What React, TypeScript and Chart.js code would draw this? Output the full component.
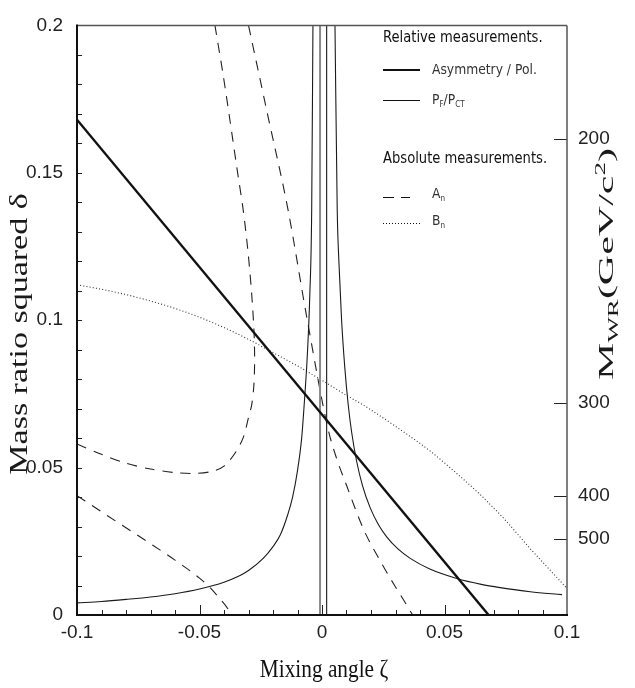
import React, { useEffect, useRef } from "react";
import { Chart, registerables } from "chart.js";
Chart.register(...registerables);

// ---- axes ----
const X_MIN = -0.1;
const X_MAX = 0.1;
const Y_MIN = 0;
const Y_MAX = 0.2;
const xMajorLabels = [-0.1, -0.05, 0, 0.05, 0.1];
const yMajorLabels = [0, 0.05, 0.1, 0.15, 0.2];
const massTickLabels = [200, 300, 400, 500];
const MW_L = 80.4; // GeV/c^2, delta = (M_WL / M_WR)^2

// ---- Asymmetry / Pol. (thick solid) ----
const asymZeta = [-0.1, 0.068];
const asymDelta = [0.168, 0];

// ---- P_F / P_CT (thin solid) ----
const pfLeftZeta = [-0.1, -0.09, -0.08, -0.07, -0.06, -0.05, -0.04, -0.035, -0.03, -0.024, -0.02, -0.017, -0.014, -0.012, -0.01, -0.0083, -0.0073, -0.006, -0.005, -0.0042, -0.0037];
const pfLeftDelta = [0.0041, 0.0046, 0.0053, 0.0061, 0.0072, 0.0088, 0.0111, 0.0128, 0.0151, 0.0192, 0.0232, 0.0272, 0.034, 0.04, 0.049, 0.06, 0.071, 0.088, 0.108, 0.138, 0.2];
const pfRightZeta = [0.0053, 0.0062, 0.007, 0.008, 0.0093, 0.0107, 0.0121, 0.0142, 0.0165, 0.0196, 0.023, 0.0264, 0.031, 0.036, 0.044, 0.055, 0.065, 0.0727, 0.085, 0.098];
const pfRightDelta = [0.2, 0.138, 0.118, 0.1, 0.084, 0.0713, 0.062, 0.0519, 0.044, 0.0365, 0.0307, 0.0265, 0.0224, 0.0192, 0.0156, 0.0124, 0.0104, 0.0093, 0.0079, 0.0069];
const pfBandGreyZeta = [-0.0008, -0.0008];
const pfBandGreyDelta = [0, 0.2];
const pfBandBlackZeta = [0.0019, 0.0019];
const pfBandBlackDelta = [0, 0.2];

// ---- A_n (dashed) ----
const anRightZeta = [-0.03, -0.022, -0.0139, -0.006, 0.0025, 0.006, 0.01, 0.017, 0.024, 0.03, 0.033, 0.037];
const anRightDelta = [0.2, 0.169, 0.1376, 0.1, 0.063, 0.053, 0.044, 0.029, 0.018, 0.0095, 0.0055, 0];
const anLeftZeta = [-0.1, -0.09, -0.08, -0.07, -0.06, -0.052, -0.045, -0.04, -0.035, -0.032, -0.03, -0.0287, -0.0278, -0.0275, -0.0278, -0.0288, -0.0303, -0.0322, -0.0348, -0.0376, -0.0405, -0.0437];
const anLeftDelta = [0.058, 0.0545, 0.0515, 0.0495, 0.0483, 0.048, 0.0487, 0.0505, 0.0555, 0.0605, 0.067, 0.0713, 0.078, 0.087, 0.097, 0.11, 0.124, 0.1376, 0.152, 0.168, 0.184, 0.2];
const anLowZeta = [-0.1, -0.09, -0.08, -0.07, -0.06, -0.05, -0.045, -0.042, -0.0385, -0.037];
const anLowDelta = [0.0405, 0.035, 0.0296, 0.0242, 0.0186, 0.0125, 0.0087, 0.0058, 0.0022, 0];

// ---- B_n (dotted) ----
const bnZeta = [-0.1, -0.09, -0.08, -0.07, -0.06, -0.05, -0.04, -0.03, -0.02, -0.01, 0, 0.01, 0.0167, 0.03, 0.044, 0.055, 0.065, 0.075, 0.085, 0.09, 0.095, 0.1];
const bnDelta = [0.112, 0.1105, 0.1087, 0.1065, 0.104, 0.101, 0.0975, 0.0935, 0.089, 0.0845, 0.0796, 0.0745, 0.0713, 0.064, 0.0557, 0.048, 0.0405, 0.032, 0.0225, 0.018, 0.0135, 0.009];

const pts = (xs: number[], ys: number[]) => xs.map((x, i) => ({ x, y: ys[i] }));
const near = (v: number, arr: number[]) => arr.some((m) => Math.abs(m - v) < 1e-9);
const fmt = (v: number) => {
  const r = Math.round(v * 1000) / 1000;
  return r === 0 ? "0" : String(r);
};

type Seg = { t: string; size: number; dy?: number };

function drawRich(
  ctx: CanvasRenderingContext2D,
  segs: Seg[],
  family: string,
  x: number,
  y: number,
  angle: number,
  sAlong: number,
  sAcross: number,
  align: "center" | "left",
  color: string
) {
  ctx.save();
  ctx.translate(x, y);
  ctx.rotate(angle);
  ctx.scale(sAlong, sAcross);
  ctx.textBaseline = "alphabetic";
  ctx.textAlign = "left";
  ctx.fillStyle = color;
  let total = 0;
  const widths = segs.map((s) => {
    ctx.font = `${s.size}px ${family}`;
    const w = ctx.measureText(s.t).width;
    total += w;
    return w;
  });
  let cx = align === "center" ? -total / 2 : 0;
  segs.forEach((s, i) => {
    ctx.font = `${s.size}px ${family}`;
    ctx.fillText(s.t, cx, s.dy || 0);
    cx += widths[i];
  });
  ctx.restore();
}

const SERIF = "'Liberation Serif', 'Times New Roman', serif";
const LEGEND = "'DejaVu Sans', sans-serif";
const TICK_FONT = { family: "'Liberation Sans', Arial, sans-serif", size: 19 };

const decor = {
  id: "decor",
  afterDraw(chart: any) {
    const { ctx, chartArea: a, scales } = chart;
    const xs = scales.x;
    const ys = scales.y;
    const y2 = scales.y2;
    const seg = (x1: number, y1: number, x2: number, y2_: number) => {
      ctx.beginPath();
      ctx.moveTo(x1, y1);
      ctx.lineTo(x2, y2_);
      ctx.stroke();
    };
    ctx.save();
    ctx.strokeStyle = "#222";
    ctx.lineWidth = 1;
    xs.ticks.forEach((t: any) => {
      const px = Math.round(xs.getPixelForValue(t.value)) + 0.5;
      if (px <= a.left + 2 || px >= a.right - 2) return;
      const len = near(t.value, xMajorLabels) ? 10 : 5;
      seg(px, a.bottom, px, a.bottom - len);
    });
    ys.ticks.forEach((t: any) => {
      const py = Math.round(ys.getPixelForValue(t.value)) + 0.5;
      if (py <= a.top + 2 || py >= a.bottom - 2) return;
      seg(a.left, py, a.left + 5, py);
    });
    y2.ticks.forEach((t: any) => {
      const py = Math.round(y2.getPixelForValue(t.value)) + 0.5;
      seg(a.right, py, a.right - 13, py);
    });
    // frame
    ctx.strokeStyle = "#555";
    ctx.lineWidth = 1.5;
    seg(a.left, a.top, a.right, a.top);
    seg(a.right, a.top, a.right, a.bottom);
    ctx.strokeStyle = "#111";
    ctx.lineWidth = 2;
    seg(a.left, a.top - 1, a.left, a.bottom + 1);
    seg(a.left - 1, a.bottom, a.right + 1, a.bottom);

    // titles
    drawRich(ctx, [{ t: "Mixing angle ζ", size: 26 }], SERIF, (a.left + a.right) / 2 + 2, 677, 0, 0.82, 1, "center", "#111");
    drawRich(ctx, [{ t: "Mass ratio squared δ", size: 34 }], SERIF, 27, 334, -Math.PI / 2, 1, 0.72, "center", "#1a1a1a");
    drawRich(
      ctx,
      [
        { t: "M", size: 42 },
        { t: "WR", size: 27, dy: 9 },
        { t: "(GeV/c", size: 42 },
        { t: "2", size: 27, dy: -15 },
        { t: ")", size: 42 },
      ],
      SERIF,
      613,
      264,
      -Math.PI / 2,
      1,
      0.52,
      "center",
      "#1a1a1a"
    );

    // legend
    const lx0 = 383;
    const lx1 = 420;
    const tx = 432;
    drawRich(ctx, [{ t: "Relative measurements.", size: 16 }], LEGEND, lx0, 42, 0, 0.82, 1, "left", "#111");
    ctx.strokeStyle = "#111";
    ctx.lineWidth = 2.2;
    seg(lx0, 70, lx1, 70);
    drawRich(ctx, [{ t: "Asymmetry / Pol.", size: 14.5 }], LEGEND, tx, 74, 0, 0.85, 1, "left", "#333");
    ctx.lineWidth = 1;
    seg(lx0, 100.5, lx1, 100.5);
    drawRich(
      ctx,
      [
        { t: "P", size: 14.5 },
        { t: "F", size: 8.5, dy: 2.5 },
        { t: "/", size: 14.5 },
        { t: "P", size: 14.5 },
        { t: "CT", size: 8.5, dy: 2.5 },
      ],
      LEGEND,
      tx,
      104,
      0,
      0.85,
      1,
      "left",
      "#333"
    );
    drawRich(ctx, [{ t: "Absolute measurements.", size: 16 }], LEGEND, lx0, 163, 0, 0.82, 1, "left", "#111");
    ctx.lineWidth = 1;
    seg(lx0, 197.5, lx0 + 11, 197.5);
    seg(lx0 + 18, 197.5, lx0 + 27, 197.5);
    drawRich(ctx, [{ t: "A", size: 14.5 }, { t: "n", size: 8.5, dy: 2.5 }], LEGEND, tx, 198, 0, 0.85, 1, "left", "#333");
    ctx.setLineDash([1, 2]);
    seg(lx0, 223.5, lx1, 223.5);
    ctx.setLineDash([]);
    drawRich(ctx, [{ t: "B", size: 14.5 }, { t: "n", size: 8.5, dy: 2.5 }], LEGEND, tx, 225, 0, 0.85, 1, "left", "#333");
    ctx.restore();
  },
};

export default function App() {
  const ref = useRef<HTMLCanvasElement | null>(null);
  useEffect(() => {
    if (!ref.current) return;

    const solid = (data: any, width: number, color = "#1a1a1a", mono = true) => ({
      data,
      showLine: true,
      borderColor: color,
      borderWidth: width,
      pointRadius: 0,
      fill: false,
      cubicInterpolationMode: mono ? "monotone" : "default",
      tension: mono ? 0 : 0.3,
    });

    const chart = new Chart(ref.current, {
      type: "scatter",
      data: {
        datasets: [
          { label: "Asymmetry / Pol.", ...solid(pts(asymZeta, asymDelta), 2.4, "#111"), cubicInterpolationMode: "default", tension: 0 },
          { label: "P_F/P_CT left", ...solid(pts(pfLeftZeta, pfLeftDelta), 1.1) },
          { label: "P_F/P_CT right", ...solid(pts(pfRightZeta, pfRightDelta), 1.1) },
          { label: "P_F/P_CT band a", ...solid(pts(pfBandGreyZeta, pfBandGreyDelta), 2, "#8a8a8a", false), tension: 0 },
          { label: "P_F/P_CT band b", ...solid(pts(pfBandBlackZeta, pfBandBlackDelta), 1.1, "#1a1a1a", false), tension: 0 },
          { label: "A_n right", ...solid(pts(anRightZeta, anRightDelta), 1.1, "#222"), borderDash: [10, 8] },
          { label: "A_n left", ...solid(pts(anLeftZeta, anLeftDelta), 1.1, "#222", false), borderDash: [10, 8] },
          { label: "A_n low", ...solid(pts(anLowZeta, anLowDelta), 1.1, "#222"), borderDash: [10, 8] },
          { label: "B_n", ...solid(pts(bnZeta, bnDelta), 1.1, "#333"), borderDash: [1, 2.2] },
        ] as any,
      },
      options: {
        animation: false,
        responsive: false,
        maintainAspectRatio: false,
        devicePixelRatio: 1,
        layout: { padding: { top: 12, left: 0, right: 0, bottom: 0 } },
        plugins: { legend: { display: false }, tooltip: { enabled: false } },
        scales: {
          x: {
            type: "linear",
            position: "bottom",
            min: X_MIN,
            max: X_MAX,
            grid: { display: false, drawTicks: false },
            border: { display: false },
            ticks: {
              stepSize: 0.01,
              autoSkip: false,
              maxRotation: 0,
              padding: 6,
              color: "#222",
              font: TICK_FONT,
              callback: (v: any) => (near(Number(v), xMajorLabels) ? fmt(Number(v)) : ""),
            },
            afterFit: (s: any) => {
              s.height = 73;
            },
          },
          y: {
            type: "linear",
            position: "left",
            min: Y_MIN,
            max: Y_MAX,
            grid: { display: false, drawTicks: false },
            border: { display: false },
            ticks: {
              stepSize: 0.01,
              autoSkip: false,
              padding: 14,
              color: "#222",
              font: TICK_FONT,
              callback: (v: any) => (near(Number(v), yMajorLabels) ? fmt(Number(v)) : ""),
            },
            afterFit: (s: any) => {
              s.width = 77;
            },
          },
          y2: {
            type: "linear",
            position: "right",
            min: Y_MIN,
            max: Y_MAX,
            grid: { display: false, drawTicks: false },
            border: { display: false },
            afterBuildTicks: (s: any) => {
              s.ticks = massTickLabels.map((m) => ({ value: (MW_L / m) ** 2 }));
            },
            ticks: {
              autoSkip: false,
              padding: 11,
              color: "#222",
              font: TICK_FONT,
              callback: (v: any) => {
                const m = massTickLabels.find((mm) => Math.abs((MW_L / mm) ** 2 - Number(v)) < 1e-9);
                return m === undefined ? "" : String(m);
              },
            },
            afterFit: (s: any) => {
              s.width = 68;
            },
          },
        },
      } as any,
      plugins: [decor],
    });
    return () => chart.destroy();
  }, []);

  return (
    <div style={{ position: "absolute", left: 0, top: 0, width: 635, height: 688, background: "#fff" }}>
      <canvas ref={ref} width={635} height={688} style={{ display: "block" }} />
    </div>
  );
}
